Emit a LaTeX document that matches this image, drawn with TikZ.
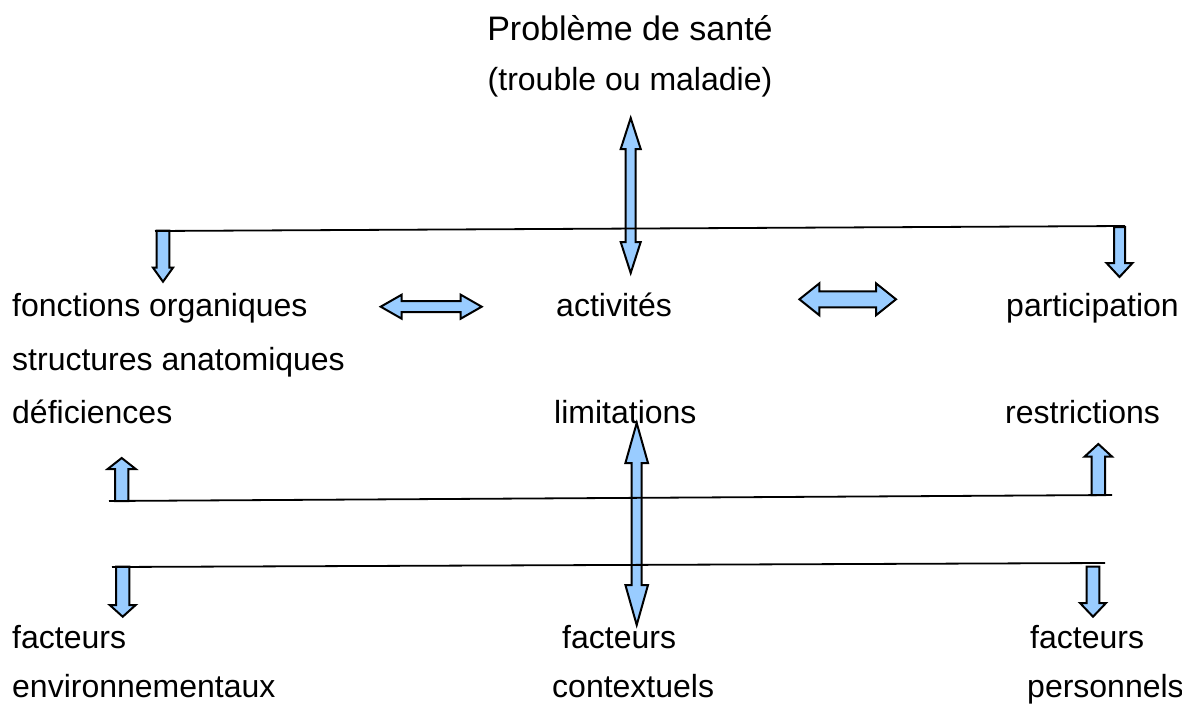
\documentclass[tikz,border=0pt]{standalone}
\usepackage{fontspec}
\setmainfont{Liberation Sans}
\definecolor{arrowblue}{RGB}{153,204,255}
\tikzset{
  txt/.style={anchor=base west,inner sep=0pt,font=\fontsize{32}{38}\selectfont},
  blockarrow/.style={draw=black,line width=2pt,fill=arrowblue,line join=miter},
  bar/.style={line width=1.8pt}
}
% double block arrow: centre, angle, half length, head length, half shaft, half head
\newcommand{\dblarrow}[6]{%
\draw[blockarrow,shift={(#1)},rotate=#2] (-#3,0) -- (-#3+#4,#6) -- (-#3+#4,#5) -- (#3-#4,#5) -- (#3-#4,#6) -- (#3,0)
  -- (#3-#4,-#6) -- (#3-#4,-#5) -- (-#3+#4,-#5) -- (-#3+#4,-#6) -- cycle;}
% single block arrow: tail, angle, length, head length, half shaft, half head
\newcommand{\onearrow}[6]{%
\draw[blockarrow,shift={(#1)},rotate=#2] (0,-#5) -- (#3-#4,-#5) -- (#3-#4,-#6) -- (#3,0) -- (#3-#4,#6) -- (#3-#4,#5) -- (0,#5) -- cycle;}

\begin{document}
\begin{tikzpicture}[x=1pt,y=-1pt]
\useasboundingbox (0,0) rectangle (1182,704);
%top
\node[txt,anchor=base,font=\fontsize{34}{40}\selectfont] (probleme) at (630,40) {Problème de santé};
\node[txt,anchor=base] (trouble) at (630,90) {(trouble ou maladie)};
%first row
\node[txt] (fonctions) at (12,316) {fonctions organiques};
\node[txt] (structures) at (12,370) {structures anatomiques};
\node[txt] (deficiences) at (12,423) {déficiences};
\node[txt] (activites) at (556,316) {activités};
\node[txt] (limitations) at (554,423) {limitations};
\node[txt] (participation) at (1006,316) {participation};
\node[txt] (restrictions) at (1005,423) {restrictions};
%factors
\node[txt] (facteursA) at (12,648) {facteurs};
\node[txt] (environ) at (12,697) {environnementaux};
\node[txt] (facteursB) at (562,648) {facteurs};
\node[txt] (contexte) at (552,697) {contextuels};
\node[txt] (facteursC) at (1030,648) {facteurs};
\node[txt] (personnels) at (1027,697) {personnels};
% block arrows
\dblarrow{630.7,195.5}{90}{77.5}{31}{5}{10}
\dblarrow{431.2,306.7}{0}{50.5}{21}{5.5}{12}
\dblarrow{847.7,299.3}{0}{48.3}{20}{8}{16}
\dblarrow{636.7,524}{90}{101}{40}{5}{11.3}
\onearrow{163,230.7}{-90}{51}{14}{6.3}{10}
\onearrow{1119.5,227}{-90}{50}{14}{5.5}{13}
\onearrow{121.7,501}{90}{43}{11}{6.7}{14}
\onearrow{1098.3,495}{90}{51}{12.7}{6.7}{13.8}
\onearrow{122.7,566.7}{-90}{50}{11.7}{6.7}{13}
\onearrow{1093,566.7}{-90}{50}{13.7}{6.3}{13}
% bars
\coordinate (barAw) at (155,231);
\coordinate (barAe) at (1125,226);
\coordinate (barBw) at (109,501);
\coordinate (barBe) at (1112,495);
\coordinate (barCw) at (112,567);
\coordinate (barCe) at (1105,563);
\draw[bar] (barAw) -- (barAe);
\draw[bar] (barBw) -- (barBe);
\draw[bar] (barCw) -- (barCe);
\end{tikzpicture}
\end{document}
